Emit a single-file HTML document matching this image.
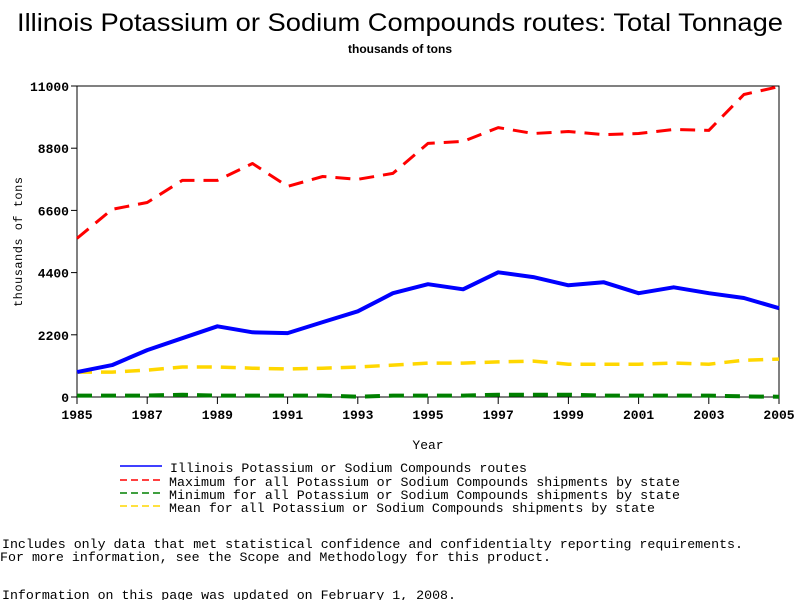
<!DOCTYPE html>
<html><head><meta charset="utf-8"><style>body{margin:0;background:#fff}svg{display:block}</style></head>
<body>
<svg id="chart" width="800" height="600" xmlns="http://www.w3.org/2000/svg" font-family="Liberation Sans, sans-serif">
<rect width="800" height="600" fill="#fff"/>
<text x="400" y="31" font-size="25" text-anchor="middle" textLength="766" lengthAdjust="spacingAndGlyphs">Illinois Potassium or Sodium Compounds routes: Total Tonnage</text>
<text x="400" y="53" font-size="12" font-weight="bold" text-anchor="middle">thousands of tons</text>
<g id="axes"></g>
<g id="series"></g>
<text x="428" y="449" font-size="13" font-family="Liberation Mono, monospace" text-anchor="middle">Year</text>
<text transform="translate(22,242) rotate(-90)" font-size="12" font-family="Liberation Mono, monospace" text-anchor="middle" textLength="130">thousands of tons</text>
<g font-family="Liberation Mono, monospace" font-size="13">
<line x1="120" y1="466" x2="162" y2="466" stroke="#0000ff" stroke-width="1.5"/>
<text x="170" y="472" textLength="357" lengthAdjust="spacingAndGlyphs">Illinois Potassium or Sodium Compounds routes</text>
<line x1="120" y1="480" x2="162" y2="480" stroke="#ff0000" stroke-width="1.5" stroke-dasharray="7,4"/>
<text x="169" y="486" textLength="511" lengthAdjust="spacingAndGlyphs">Maximum for all Potassium or Sodium Compounds shipments by state</text>
<line x1="120" y1="493" x2="162" y2="493" stroke="#008000" stroke-width="1.5" stroke-dasharray="7,4"/>
<text x="169" y="499" textLength="511" lengthAdjust="spacingAndGlyphs">Minimum for all Potassium or Sodium Compounds shipments by state</text>
<line x1="120" y1="506" x2="162" y2="506" stroke="#ffd700" stroke-width="1.5" stroke-dasharray="7,4"/>
<text x="169" y="512" textLength="486" lengthAdjust="spacingAndGlyphs">Mean for all Potassium or Sodium Compounds shipments by state</text>
</g>
<g font-family="Liberation Mono, monospace" font-size="13">
<text x="2" y="548" textLength="741" lengthAdjust="spacingAndGlyphs">Includes only data that met statistical confidence and confidentialty reporting requirements.</text>
<text x="0" y="561" textLength="551" lengthAdjust="spacingAndGlyphs">For more information, see the Scope and Methodology for this product.</text>
<text x="2" y="599" textLength="454" lengthAdjust="spacingAndGlyphs">Information on this page was updated on February 1, 2008.</text>
</g>
</svg>
<script>
const years = [1985,1986,1987,1988,1989,1990,1991,1992,1993,1994,1995,1996,1997,1998,1999,2000,2001,2002,2003,2004,2005];
const illinois = [880,1130,1660,2080,2500,2290,2260,2650,3030,3670,3990,3810,4410,4240,3950,4060,3670,3880,3670,3500,3140];
const maximum = [5610,6640,6880,7660,7660,8260,7450,7800,7700,7910,8970,9040,9530,9320,9390,9280,9320,9460,9430,10700,10980];
const minimum = [50,50,50,80,50,50,50,50,10,50,50,50,80,80,80,50,50,50,50,20,10];
const mean = [880,880,950,1060,1060,1020,990,1020,1060,1130,1200,1200,1240,1270,1160,1160,1160,1200,1160,1300,1340];
const yTicks = [0,2200,4400,6600,8800,11000];
const xTicks = [1985,1987,1989,1991,1993,1995,1997,1999,2001,2003,2005];

const X0=77,X1=779,Y0=397,Y1=86;
const xs = v => X0 + (v-1985)/(2005-1985)*(X1-X0);
const ys = v => Y0 - v/11000*(Y0-Y1);
const NS='http://www.w3.org/2000/svg';
const axes=document.getElementById('axes'), ser=document.getElementById('series');
function mk(tag,attrs,parent){const e=document.createElementNS(NS,tag);for(const k in attrs)e.setAttribute(k,attrs[k]);parent.appendChild(e);return e;}

const frame=mk('rect',{x:X0,y:Y1,width:X1-X0,height:Y0-Y1,fill:'none',stroke:'#000','stroke-width':1},axes);


yTicks.forEach(t=>{
  const l=mk('line',{x1:X0-6,x2:X0,y1:ys(t),y2:ys(t),stroke:'#000'},axes);
  
  
  const tx=mk('text',{x:X0-8,y:ys(t)+5,'font-size':13,'font-weight':'bold','font-family':'Liberation Mono, monospace','text-anchor':'end'},axes);
  tx.textContent=t;
  
  
});
xTicks.forEach(t=>{
  const l=mk('line',{x1:xs(t),x2:xs(t),y1:Y0,y2:Y0+7,stroke:'#000'},axes);
  
  
  const tx=mk('text',{x:xs(t),y:Y0+22,'font-size':13,'font-weight':'bold','font-family':'Liberation Mono, monospace','text-anchor':'middle'},axes);
  tx.textContent=t;
  
  
});
function line(data,color,width,dash,name){
  const d=data.map((v,i)=>(i?'L':'M')+xs(years[i]).toFixed(1)+','+ys(v).toFixed(1)).join('');
  const p=mk('path',{d:d,fill:'none',stroke:color,'stroke-width':width,'stroke-linejoin':'round'},ser);
  if(dash)p.setAttribute('stroke-dasharray',dash);
  
  
}
line(minimum,'#008000',4,'15,9','minimum-line');
line(mean,'#ffd700',3.5,'15,9','mean-line');
line(maximum,'#ff0000',3,'15,9','maximum-line');
line(illinois,'#0000ff',4,null,'illinois-line');
</script>
</body></html>
